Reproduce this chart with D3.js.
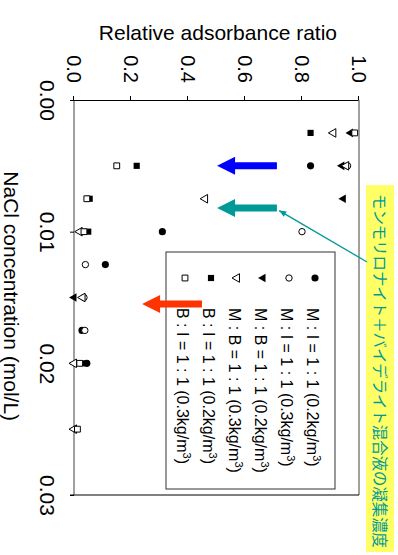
<!DOCTYPE html>
<html>
<head>
<meta charset="utf-8">
<script src="https://cdn.jsdelivr.net/npm/d3@7"></script>
<style>
  body { margin: 0; background: #fff; }
  text { font-family: "Liberation Sans", Arial, sans-serif; fill: #000; }
</style>
</head>
<body>
<div id="chart"></div>
<script>
// NaCl concentration (mol/L) of each measurement
var conc = [0.0025, 0.005, 0.0075, 0.01, 0.0125, 0.015, 0.0175, 0.02, 0.025];

// relative adsorbance ratio per series (null = no point)
var miLow  = [null, 0.83, null, 0.31, 0.11, null, 0.028, 0.045, null];
var miHigh = [null, 0.96, null, 0.80, 0.04, 0.035, 0.038, null, null];
var mbLow  = [0.97, 0.94, 0.945, null, null, 0.0, null, null, null];
var mbHigh = [0.91, 0.955, 0.46, 0.02, null, 0.03, null, 0.0, 0.0];
var biLow  = [0.83, 0.22, 0.055, 0.05, null, null, null, 0.04, null];
var biHigh = [0.985, 0.15, 0.045, 0.035, null, null, null, 0.02, 0.012];

var seriesNames = ["M : I = 1 : 1", "M : I = 1 : 1", "M : B = 1 : 1", "M : B = 1 : 1", "B : I = 1 : 1", "B : I = 1 : 1"];
var seriesDose = ["0.2", "0.3", "0.2", "0.3", "0.2", "0.3"];

var xTicks = [0, 0.01, 0.02, 0.03];
var yTicks = [0, 0.2, 0.4, 0.6, 0.8, 1.0];

// annotation arrows: concentration, ratio at tail, ratio at tip, colour
var arrowConc = [0.005, 0.0082, 0.0155];
var arrowFrom = [0.712, 0.712, 0.449];
var arrowTo = [0.502, 0.502, 0.239];
var arrowColor = ["#0000ff", "#009999", "#ff3300"];

var noteText = "モンモリロナイト＋バイデライト混合液の凝集濃度";

// The chart is drawn in its own frame and then turned a quarter turn clockwise
var W = 398, H = 555;
var svg = d3.select("#chart").append("svg")
    .attr("width", W)
    .attr("height", H);

var g = svg.append("g")
    .attr("transform", "translate(" + W + ",0) rotate(90)");

var x = d3.scaleLinear().domain([0, 0.03]).range([100, 495]);
var y = d3.scaleLinear().domain([0, 1]).range([324, 39]);

// plot area border (grey) and closing line
g.append("line").attr("x1", x(0)).attr("x2", x(0.03)).attr("y1", y(0)).attr("y2", y(0))
    .attr("stroke", "#808080").attr("stroke-width", 1.5);
g.append("line").attr("x1", x(0)).attr("x2", x(0.03)).attr("y1", y(1)).attr("y2", y(1))
    .attr("stroke", "#808080").attr("stroke-width", 1.5);
g.append("line").attr("x1", x(0.03)).attr("x2", x(0.03)).attr("y1", y(0) + 4).attr("y2", y(1))
    .attr("stroke", "#000").attr("stroke-width", 1);

// ratio axis
var yAxis = g.append("g")
    .attr("transform", "translate(" + x(0) + ",0)")
    .call(d3.axisLeft(y).tickValues(yTicks).tickFormat(d3.format(".1f"))
        .tickSize(4).tickSizeOuter(0).tickPadding(13));
yAxis.select(".domain").attr("stroke", "#000");
yAxis.selectAll("text").style("font-size", "20px");

// concentration axis
var xAxis = g.append("g")
    .attr("transform", "translate(0," + y(0) + ")")
    .call(d3.axisBottom(x).tickValues(xTicks).tickFormat(d3.format(".2f"))
        .tickSize(4).tickSizeOuter(0).tickPadding(15));
xAxis.select(".domain").remove();
xAxis.selectAll("text").style("font-size", "21px");

// axis titles
g.append("text")
    .attr("transform", "translate(40," + y(0.505) + ") rotate(-90)")
    .attr("text-anchor", "middle")
    .style("font-size", "21px")
    .text("Relative adsorbance ratio");

g.append("text")
    .attr("x", x(0.0149))
    .attr("y", 394)
    .attr("text-anchor", "middle")
    .style("font-size", "21px")
    .text("NaCl concentration (mol/L)");

// markers
var seriesData = [miLow, miHigh, mbLow, mbHigh, biLow, biHigh];
var shapes = [d3.symbolCircle, d3.symbolCircle, d3.symbolTriangle, d3.symbolTriangle, d3.symbolSquare, d3.symbolSquare];
var sizes = [40, 32, 32, 32, 38, 34];
var filled = [true, false, true, false, true, false];
var turn = [0, 0, 180, 180, 0, 0];

function marker(sel, i) {
    sel.attr("d", d3.symbol().type(shapes[i]).size(sizes[i])())
        .attr("fill", filled[i] ? "#000" : "#fff")
        .attr("stroke", "#000")
        .attr("stroke-width", filled[i] ? 0 : 1);
}

seriesData.forEach(function (vals, i) {
    var pts = conc.map(function (c, j) { return { c: c, v: vals[j] }; })
        .filter(function (d) { return d.v !== null; });
    g.append("g").selectAll("path")
        .data(pts)
        .enter()
        .append("path")
        .attr("transform", function (d) {
            return "translate(" + x(d.c) + "," + y(d.v) + ") rotate(" + turn[i] + ")";
        })
        .call(marker, i);
});

// legend
var lg = g.append("g");
lg.append("rect")
    .attr("x", 252).attr("y", 63)
    .attr("width", 237).attr("height", 169)
    .attr("fill", "#fff")
    .attr("stroke", "#333").attr("stroke-width", 1);

var rowY = d3.scaleLinear().domain([0, 5]).range([83, 213]);
seriesNames.forEach(function (name, i) {
    lg.append("path")
        .attr("transform", "translate(278," + rowY(i) + ") rotate(" + turn[i] + ")")
        .call(marker, i);
    var t = lg.append("text")
        .attr("x", 308)
        .attr("y", rowY(i) + 8)
        .style("font-size", "16px");
    t.append("tspan").text(name + " (" + seriesDose[i] + "kg/m");
    t.append("tspan").attr("dy", -6).style("font-size", "11px").text("3");
    t.append("tspan").attr("dy", 6).text(")");
});

// arrows, drawn over the legend
arrowConc.forEach(function (c, i) {
    var cx = x(c), y0 = y(arrowFrom[i]), y1 = y(arrowTo[i]);
    var sh = 3.5, hw = 9, hl = 18;
    var pts = [[cx - sh, y0], [cx + sh, y0], [cx + sh, y1 - hl], [cx + hw, y1 - hl],
               [cx, y1], [cx - hw, y1 - hl], [cx - sh, y1 - hl]];
    g.append("path")
        .attr("d", d3.line()(pts) + "Z")
        .attr("fill", arrowColor[i]);
});

// yellow note with pointer line
g.append("rect")
    .attr("x", 185).attr("y", 4)
    .attr("width", 367).attr("height", 28)
    .attr("fill", "#ffff66");
g.append("text")
    .attr("x", 194).attr("y", 24)
    .style("font-family", "'Noto Sans CJK JP', sans-serif")
    .style("font-size", "15.4px")
    .style("fill", "#009999")
    .text(noteText);

var lx0 = x(0.0084), ly0 = y(0.72), lx1 = x(0.0123), ly1 = y(1.028);
g.append("line")
    .attr("x1", lx0).attr("y1", ly0).attr("x2", lx1).attr("y2", ly1)
    .attr("stroke", "#009999").attr("stroke-width", 1.3);
var ang = Math.atan2(ly1 - ly0, lx1 - lx0) * 180 / Math.PI;
g.append("path")
    .attr("d", "M0,0L7,-3L7,3Z")
    .attr("transform", "translate(" + lx0 + "," + ly0 + ") rotate(" + ang + ")")
    .attr("fill", "#009999");
</script>
</body>
</html>
